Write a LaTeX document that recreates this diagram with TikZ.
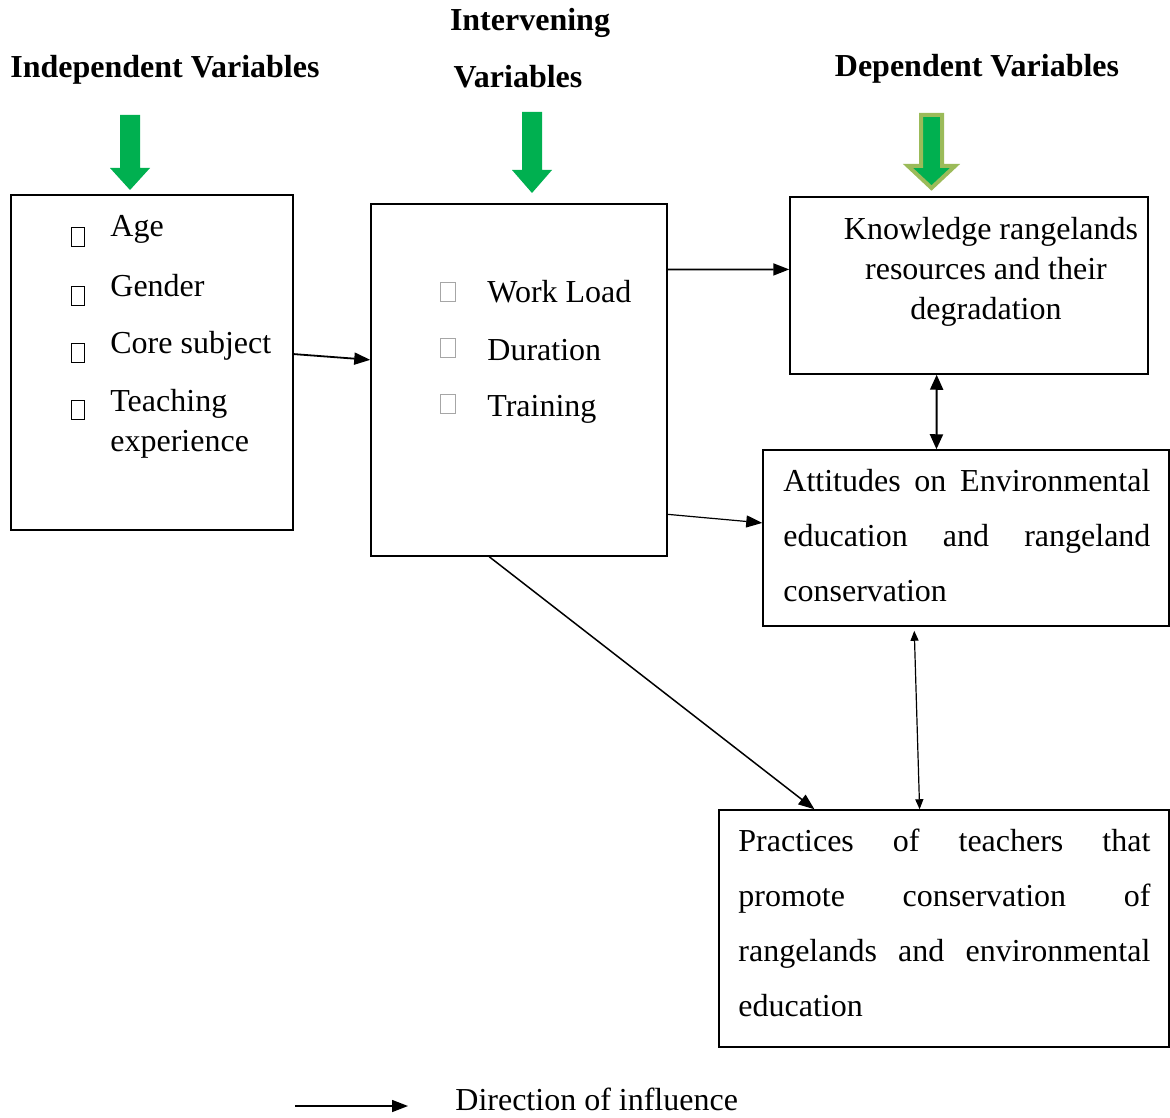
\documentclass[tikz,border=0pt]{standalone}
\usepackage{fontspec}
\setmainfont{Liberation Serif}
\usetikzlibrary{arrows.meta,positioning,calc}
\definecolor{Verde}{HTML}{00B050}
\definecolor{VerdeBorde}{HTML}{9BBB59}
\definecolor{GrisCaja}{HTML}{A6A6A6}

\begin{document}
\begin{tikzpicture}[
  x=0.5pt,y=-0.5pt,
  every node/.style={font=\fontsize{16}{20}\selectfont,inner sep=0pt},
  box/.style={draw,line width=0.75pt},
  flow/.style={-{Triangle[length=8pt,width=6pt]},line width=0.9pt},
  both/.style={{Triangle[length=7.5pt,width=6.5pt]}-{Triangle[length=7.5pt,width=6.5pt]},line width=1pt},
  thinboth/.style={{Triangle[length=5pt,width=4pt]}-{Triangle[length=5pt,width=4pt]},line width=0.6pt},
  head/.style={font=\fontsize{16}{20}\selectfont\bfseries},
  tick/.style={draw,line width=0.9pt,minimum width=6.5pt,minimum height=9.5pt},
  greytick/.style={draw=GrisCaja,line width=0.5pt,minimum width=7.5pt,minimum height=9.5pt},
  item/.style={anchor=base west},
  para/.style={anchor=north west,align=justify,font=\fontsize{16}{27.5}\selectfont}
]
  \useasboundingbox (0,0) rectangle (1170,1117);

  % Column headings and the green arrows under them.
  \node[head,anchor=base west] (indvar) at (10,78) {Independent Variables};
  \node[head,anchor=base] (intvar) at (530,31) {Intervening};
  \node[head,anchor=base] (intvarb) at (518,88) {Variables};
  \node[head,anchor=base] (depvar) at (977,77) {Dependent Variables};
  \foreach \cx/\ty/\hy/\by in {130/115/168/190, 532/112/170/193}
    \fill[Verde] (\cx-10,\ty) -- (\cx+10,\ty) -- (\cx+10,\hy) -- (\cx+20,\hy)
      -- (\cx,\by) -- (\cx-20,\hy) -- (\cx-10,\hy) -- cycle;
  \filldraw[fill=Verde,draw=VerdeBorde,line width=2pt]
    (921,115) -- (942,115) -- (942,166) -- (955,166) -- (931.5,188)
    -- (908,166) -- (921,166) -- cycle;

  % Boxes.
  \node[box,minimum width=141pt,minimum height=167.5pt] (indep) at (152,362.5) {};
  \node[box,minimum width=148pt,minimum height=176pt] (inter) at (519,380) {};
  \node[box,minimum width=179pt,minimum height=88.5pt] (know) at (969,285.5) {};
  \node[box,minimum width=203pt,minimum height=88pt] (att) at (966,538) {};
  \node[box,minimum width=225pt,minimum height=118.5pt] (prac) at (944,928.5) {};

  % Independent variables.
  \foreach \y/\n in {237/1,296/2,353/3,410/4}
    \node[tick] (ib\n) at (78,\y) {};
  \node[item] (age) at (110,237) {Age};
  \node[item] (gender) at (110,296) {Gender};
  \node[item] (core) at (110,353) {Core subject};
  \node[item] (teach) at (110,411) {Teaching};
  \node[item] (exper) at (110,451) {experience};

  % Intervening variables.
  \foreach \y/\n in {292/1,348/2,404/3}
    \node[greytick] (gb\n) at (448,\y) {};
  \node[item] (load) at (487,302) {Work Load};
  \node[item] (dur) at (487,360) {Duration};
  \node[item] (train) at (487,416) {Training};

  % Dependent variables.
  \node[anchor=north,align=center] (knowtxt) at (986,217)
    {\hspace{5pt}Knowledge rangelands\\resources and their\\degradation\hspace{7pt}};
  \node[para,text width=183.5pt] (atttxt) at (783,469)
    {Attitudes on Environmental\linebreak education and rangeland\linebreak conservation};
  \node[para,text width=206pt] (practxt) at (738,829)
    {Practices of teachers that\linebreak promote conservation of\linebreak rangelands and environmental\linebreak education};

  % Influences.
  \draw[flow] ($(indep.north east)!0.475!(indep.south east)$)
    -- ($(inter.north west)!0.443!(inter.south west)$);
  \draw[flow] ($(inter.north east)!0.1875!(inter.south east)$)
    -- ($(know.north west)!0.41!(know.south west)$);
  \draw[flow,line width=0.6pt] ($(inter.north east)!0.88!(inter.south east)$)
    -- ($(att.north west)!0.415!(att.south west)$);
  \draw[flow,line width=0.75pt] ($(inter.south west)!0.40!(inter.south east)$)
    -- ($(prac.north west)!0.213!(prac.north east)$);
  \draw[both] ($(know.south west)!0.41!(know.south east)$)
    -- ($(att.north west)!0.4275!(att.north east)$);
  \draw[thinboth] ([yshift=-2pt]$(att.south west)!0.373!(att.south east)$)
    -- ($(prac.north west)!0.446!(prac.north east)$);

  % Legend.
  \coordinate (lega) at (295,1106);
  \coordinate (legb) at (408,1106);
  \draw[flow,line width=0.75pt] (lega) -- (legb);
  \node[anchor=base west] (legtxt) at (455,1110) {Direction of influence};
\end{tikzpicture}
\end{document}
